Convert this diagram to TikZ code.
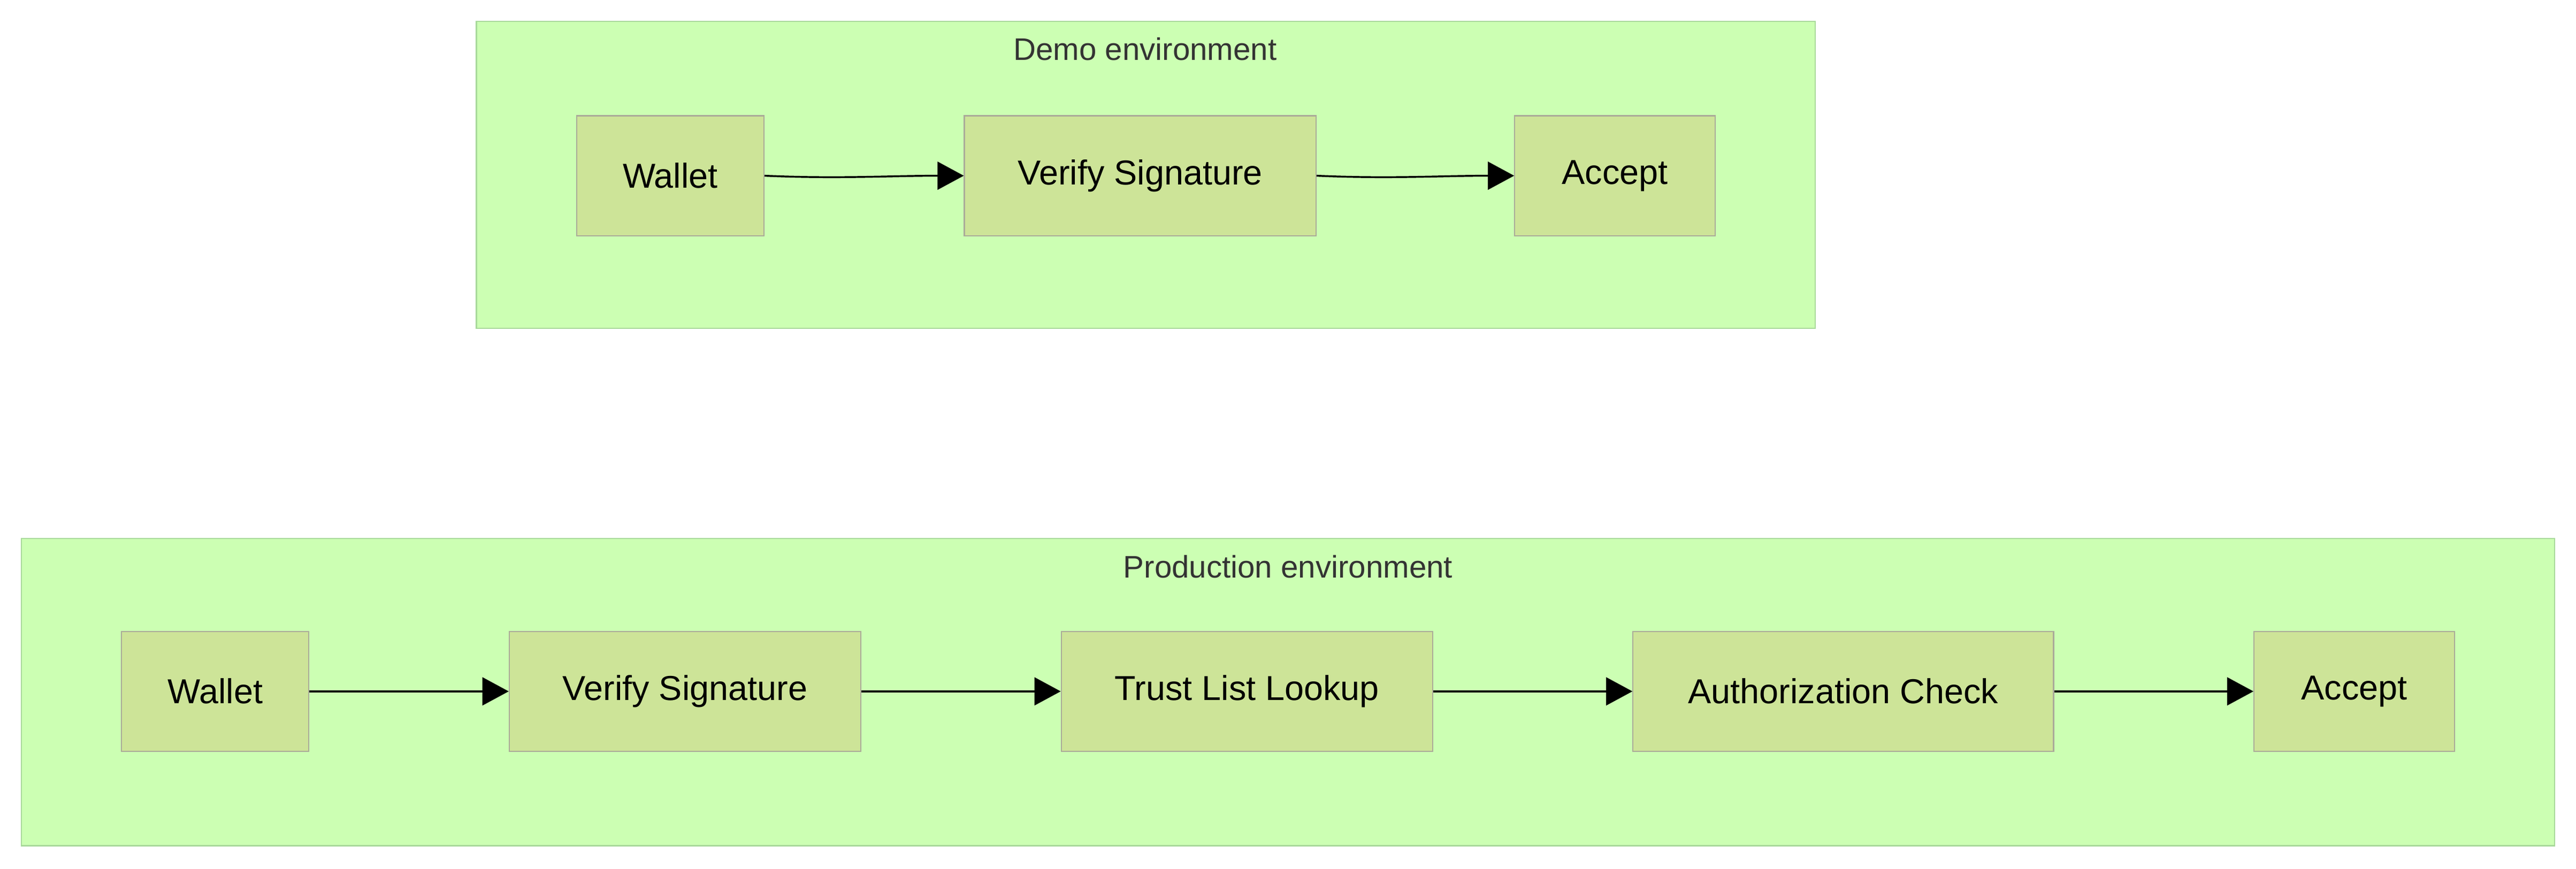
\documentclass[tikz,border=0pt]{standalone}
\usepackage{fontspec}
\setmainfont{Liberation Sans}
\usetikzlibrary{arrows.meta}
\definecolor{clusterfill}{HTML}{CCFFB3}
\definecolor{clusterdraw}{HTML}{A8D99A}
\definecolor{boxfill}{HTML}{CDE498}
\definecolor{boxdraw}{HTML}{AAAA99}
\definecolor{titletext}{HTML}{333333}
\begin{document}
\begin{tikzpicture}[x=0.5mm, y=0.5mm,
                    cluster/.style={draw=clusterdraw, fill=clusterfill, line width=1pt},
                    ctitle/.style={text=titletext, font=\fontsize{27}{32}\selectfont},
                    box/.style={rectangle, draw=boxdraw, fill=boxfill, line width=1pt,
                                minimum height=36.5mm, inner sep=0pt, font=\fontsize{30}{36}\selectfont},
                    arrow/.style={-{Triangle[length=8mm, width=8.5mm]}, line width=1.6pt}]
  \useasboundingbox (0,0) rectangle (1568,-529);
  % demo environment
  \draw[cluster] (290,-13) rectangle (1105,-200);
  \node[ctitle] (demotitle) at (697,-30) {Demo environment};
  \node[box, minimum width=57mm] (dwallet) at (408,-107) {Wallet};
  \node[box, minimum width=107mm] (dverify) at (694,-107) {Verify Signature};
  \node[box, minimum width=61mm] (daccept) at (983,-107) {Accept};
  \draw[arrow] (dwallet.east) .. controls +(45,-2) and +(-45,0) .. (dverify.west);
  \draw[arrow] (dverify.east) .. controls +(45,-2) and +(-45,0) .. (daccept.west);
  % production environment
  \draw[cluster] (13,-328) rectangle (1555,-515);
  \node[ctitle] (prodtitle) at (784,-345) {Production environment};
  \node[box, minimum width=57mm] (pwallet) at (131,-421) {Wallet};
  \node[box, minimum width=107mm] (pverify) at (417,-421) {Verify Signature};
  \node[box, minimum width=113mm] (ptrust) at (759,-421) {Trust List Lookup};
  \node[box, minimum width=128mm] (pauth) at (1122,-421) {Authorization Check};
  \node[box, minimum width=61mm] (paccept) at (1433,-421) {Accept};
  \draw[arrow] (pwallet) -- (pverify);
  \draw[arrow] (pverify) -- (ptrust);
  \draw[arrow] (ptrust) -- (pauth);
  \draw[arrow] (pauth) -- (paccept);
\end{tikzpicture}
\end{document}
